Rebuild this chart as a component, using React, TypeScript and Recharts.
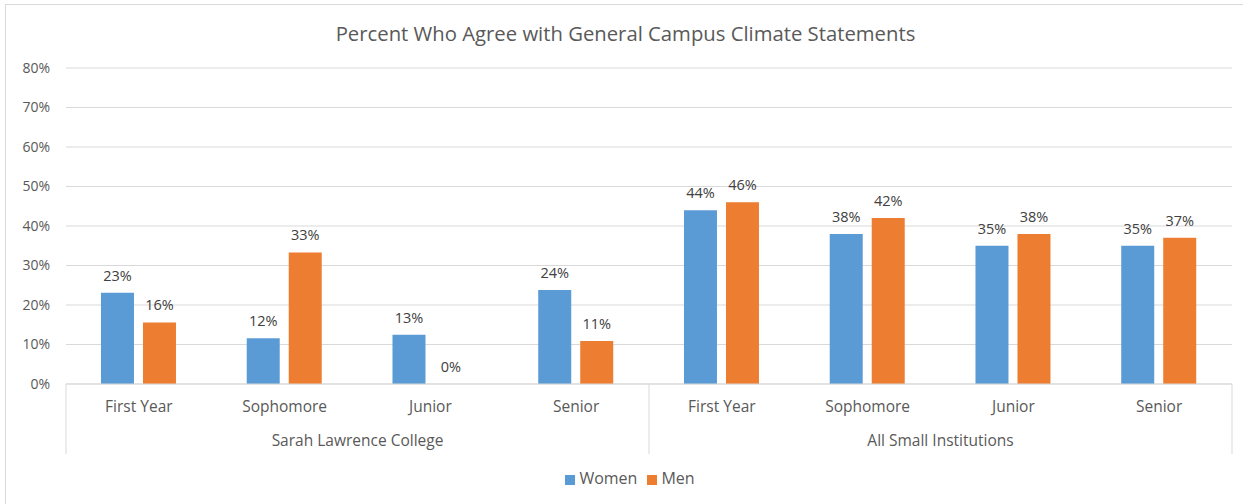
import React from 'react';
import { BarChart, Bar, XAxis, YAxis, CartesianGrid, Legend, LabelList } from 'recharts';

const categories = ['First Year', 'Sophomore', 'Junior', 'Senior', 'First Year', 'Sophomore', 'Junior', 'Senior'];
const groups = [
  'Sarah Lawrence College', 'Sarah Lawrence College', 'Sarah Lawrence College', 'Sarah Lawrence College',
  'All Small Institutions', 'All Small Institutions', 'All Small Institutions', 'All Small Institutions',
];
const women = [23.1, 11.6, 12.5, 23.8, 44, 38, 35, 35];
const men = [15.6, 33.3, 0, 10.9, 46, 42, 38, 37];
const yTicks = [0, 10, 20, 30, 40, 50, 60, 70, 80];
const seriesOrder = ['Women', 'Men'];

const data = categories.map((c, i) => ({ id: `${groups[i]}|${c}`, cat: c, group: groups[i], Women: women[i], Men: men[i] }));

const W = 1243;
const H = 504;
const M = { top: 68, right: 11, bottom: 0, left: 0 };
const Y_W = 66;
const X_H = 120;
const PLOT_W = W - M.left - M.right - Y_W;
const BW = PLOT_W / categories.length;
const FONT = '"Open Sans", sans-serif';
const TXT = '#595959';

const CatTick = (props: any) => {
  const { x, y, index } = props;
  const i = index as number;
  return (
    <g>
      <text x={x} y={y + 28} textAnchor="middle" fill={TXT} fontSize={15.5} fontFamily={FONT}>{categories[i]}</text>
      {i % 4 === 0 && <line x1={x - BW / 2} x2={x - BW / 2} y1={y} y2={y + 70} stroke="#d9d9d9" />}
      {i === categories.length - 1 && <line x1={x + BW / 2} x2={x + BW / 2} y1={y} y2={y + 70} stroke="#d9d9d9" />}
      {i % 4 === 1 && (
        <text x={x + BW / 2} y={y + 62} textAnchor="middle" fill={TXT} fontSize={15.5} fontFamily={FONT}>{groups[i]}</text>
      )}
    </g>
  );
};

const fmt = (v: any) => `${Math.round(Number(v))}%`;
const minSize = (v: any) => (Number(v) === 0 ? 0.01 : 0);

export default function App() {
  return (
    <div style={{ position: 'absolute', left: 0, top: 0, width: W, height: H, background: '#fff', overflow: 'hidden' }}>
      <div style={{ position: 'absolute', left: 5, top: 4, right: 0, bottom: 0, borderLeft: '1px solid #d9d9d9', borderTop: '1px solid #d9d9d9' }} />
      <div style={{ position: 'absolute', left: 4, top: 19, width: W, textAlign: 'center', fontFamily: FONT, fontSize: 20.3, color: TXT, lineHeight: '28px' }}>
        Percent Who Agree with General Campus Climate Statements
      </div>
      <div style={{ position: 'absolute', left: 0, top: 0 }}>
        <BarChart width={W} height={H} data={data} margin={M} barGap={9} barCategoryGap="24%">
          <CartesianGrid vertical={false} stroke="#d9d9d9" />
          <XAxis dataKey="id" height={X_H} tick={<CatTick />} tickLine={false} tickSize={0} tickMargin={0} interval={0} axisLine={{ stroke: '#d9d9d9' }} />
          <YAxis width={Y_W} domain={[0, 80]} ticks={yTicks} tickFormatter={(v) => `${v}%`} axisLine={false} tickLine={false} tickMargin={10}
            tick={{ fill: TXT, fontSize: 14, fontFamily: FONT }} />
          <Legend verticalAlign="middle" align="center" iconType="square" iconSize={10}
            itemSorter={(item: any) => seriesOrder.indexOf(item.value)}
            wrapperStyle={{ top: 467, left: 19, fontFamily: FONT, fontSize: 16 }}
            formatter={(v) => <span style={{ color: TXT }}>{v}</span>} />
          <Bar dataKey="Women" fill="#5B9BD5" isAnimationActive={false}>
            <LabelList dataKey="Women" position="top" offset={12} formatter={fmt} fill="#404040" fontSize={14.5} fontFamily={FONT} />
          </Bar>
          <Bar dataKey="Men" fill="#ED7D31" isAnimationActive={false} minPointSize={minSize}>
            <LabelList dataKey="Men" position="top" offset={12} formatter={fmt} fill="#404040" fontSize={14.5} fontFamily={FONT} />
          </Bar>
        </BarChart>
      </div>
    </div>
  );
}
